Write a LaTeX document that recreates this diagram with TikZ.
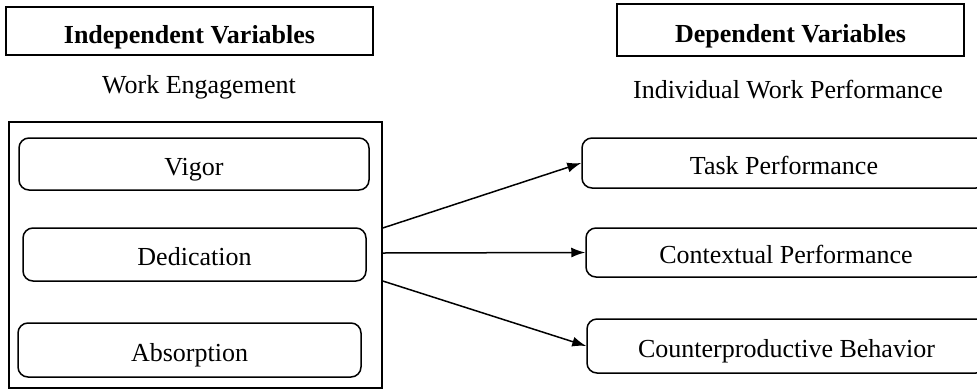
\documentclass[tikz,border=0pt]{standalone}
\usepackage{fontspec}
\setmainfont{Liberation Serif}
\usepackage{tikz}
\usetikzlibrary{arrows.meta}
\tikzset{>={Latex[length=14pt,width=10pt]}}
\tikzstyle{heading} = [rectangle, draw=black, line width=1.5pt, text centered, font=\fontsize{26}{30}\selectfont\bfseries, inner sep=0pt, text height=24pt, text depth=0pt]
\tikzstyle{caption} = [font=\fontsize{26}{30}\selectfont, inner sep=0pt, anchor=base]
\tikzstyle{frame} = [rectangle, draw=black, line width=1.5pt, inner sep=0pt]
\tikzstyle{item} = [rectangle, rounded corners=10pt, draw=black, line width=1.5pt, text centered, font=\fontsize{26}{30}\selectfont, inner sep=0pt, text height=22pt, text depth=0pt]
\tikzstyle{arrow} = [line width=1.5pt, ->]

\begin{document}
\begin{tikzpicture}[x=1pt, y=-1pt]
	\useasboundingbox (0,0) rectangle (977,389);
	% left side
	\node (indep) [heading, minimum width=367, minimum height=48] at (189.5,31) {Independent Variables};
	\node (engage) [caption] at (199,93) {Work Engagement};
	\node (outer) [frame, minimum width=373, minimum height=266] at (195.5,255) {};
	\node (vigor) [item, minimum width=350, minimum height=52] at (194,164) {Vigor};
	\node (dedic) [item, minimum width=343, minimum height=53] at (194.5,254.5) {Dedication};
	\node (absorb) [item, minimum width=343, minimum height=54] at (189.5,350) {Absorption};
	% right side
	\node (dep) [heading, minimum width=347, minimum height=52] at (790.5,30) {Dependent Variables};
	\node (perf) [caption] at (788,98) {Individual Work Performance};
	\node (task) [item, minimum width=404, minimum height=50] at (784,163) {Task Performance};
	\node (context) [item, minimum width=400, minimum height=49] at (786,252.5) {Contextual Performance};
	\node (counter) [item, minimum width=399, minimum height=54] at (786.5,346) {Counterproductive Behavior};
	% links
	\draw [arrow] ([yshift=27pt]outer.east) -- (task.west);
	\draw [arrow] ([yshift=2pt]outer.east) -- (context.west);
	\draw [arrow] ([yshift=-26pt]outer.east) -- (counter.west);
\end{tikzpicture}
\end{document}
